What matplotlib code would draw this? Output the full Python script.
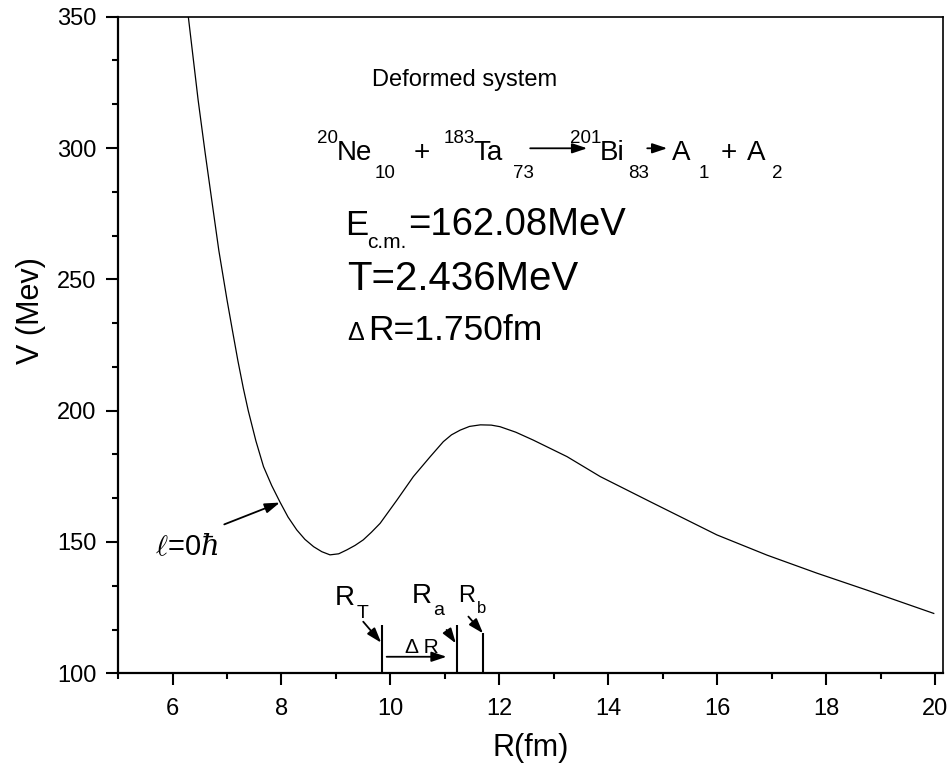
import matplotlib
matplotlib.use('Agg')
import matplotlib.pyplot as plt
from matplotlib.ticker import MultipleLocator, AutoMinorLocator

plt.rcParams['font.family'] = ['Liberation Sans', 'DejaVu Sans']
plt.rcParams['mathtext.fontset'] = 'custom'
plt.rcParams['mathtext.rm'] = 'Liberation Sans'
plt.rcParams['mathtext.it'] = 'DejaVu Serif:italic'

# potential curve
r_fm = [6.29, 6.47, 6.60, 6.72, 6.85, 7.00, 7.10, 7.20, 7.30, 7.39, 7.53,
        7.67, 7.82, 7.97, 8.12, 8.28, 8.43, 8.59, 8.74, 8.89, 9.05, 9.20,
        9.35, 9.50, 9.65, 9.81, 10.12, 10.42, 10.73, 10.97, 11.12, 11.28,
        11.45, 11.65, 11.85, 12.01, 12.30, 12.62, 13.24, 13.85, 14.77,
        15.07, 15.99, 16.91, 17.83, 18.74, 19.97]
v_mev = [350.0, 318.3, 298.0, 280.2, 261.0, 242.2, 230.5, 219.0, 208.5,
         200.0, 188.5, 178.7, 171.5, 165.3, 159.5, 154.6, 151.0, 148.2,
         146.3, 145.1, 145.5, 147.0, 148.7, 150.8, 153.7, 157.1, 166.0,
         174.9, 182.5, 188.2, 190.8, 192.6, 194.0, 194.6, 194.5, 193.9,
         191.8, 188.8, 182.5, 174.9, 165.3, 162.2, 152.7, 145.0, 138.1,
         131.7, 122.8]

# R_T, R_a, R_b markers
r_marks = [9.85, 11.22, 11.70]
v_mark_tops = [118.3, 118.3, 115.2]

fig = plt.figure(figsize=(9.51, 7.74), dpi=100)
ax = fig.add_axes([0.1241, 0.1301, 0.8675, 0.8483])

ax.plot(r_fm, v_mev, color='black', lw=0.9)
ax.vlines(r_marks, 100, v_mark_tops, color='black', lw=1.5)

ax.set_xlim(5, 20.14)
ax.set_ylim(100, 350)
ax.set_xticks([6, 8, 10, 12, 14, 16, 18, 20])
ax.xaxis.set_minor_locator(MultipleLocator(1))
ax.yaxis.set_major_locator(MultipleLocator(50))
ax.yaxis.set_minor_locator(AutoMinorLocator(3))
ax.tick_params(which='major', direction='out', length=8.5, width=1.5,
               labelsize=17, pad=7)
ax.tick_params(axis='x', which='major', pad=9)
ax.tick_params(which='minor', direction='out', length=4.5, width=1.5)
for s in ax.spines.values():
    s.set_linewidth(1.2)
ax.spines['left'].set_linewidth(1.6)
ax.spines['bottom'].set_linewidth(1.6)

ax.set_xlabel('R(fm)', fontsize=22, labelpad=10)
ax.set_ylabel('V (Mev)', fontsize=22, labelpad=8)
ax.yaxis.label.set_y(0.553)

# texts
ax.text(9.663, 323.6, 'Deformed system', fontsize=17, va='baseline')

big, small, yb, ysub, ysup = 20, 13.5, 295.5, 288.5, 301.8
eq = [('20', 8.653, ysup, small), ('Ne', 9.021, yb, big), ('10', 9.70, ysub, small),
      ('+', 10.416, yb, big), ('183', 10.967, ysup, small), ('Ta', 11.517, yb, big),
      ('73', 12.252, ysub, small), ('201', 13.298, ysup, small), ('Bi', 13.849, yb, big),
      ('83', 14.363, ysub, small), ('A', 15.17, yb, big), ('1', 15.648, ysub, small),
      ('+', 16.05, yb, big), ('A', 16.54, yb, big), ('2', 17.01, ysub, small)]
for s, x, y, fs in eq:
    ax.text(x, y, s, fontsize=fs, va='baseline')

arrow = dict(arrowstyle='-|>,head_length=0.9,head_width=0.3', color='black',
             lw=1.3, shrinkA=0, shrinkB=0)
ax.annotate('', xy=(13.61, 299.9), xytext=(12.564, 299.9), arrowprops=arrow)
ax.annotate('', xy=(15.079, 299.9), xytext=(14.712, 299.9), arrowprops=arrow)

ax.text(9.167, 267.0, 'E', fontsize=25, va='baseline')
ax.text(9.571, 262.0, 'c.m.', fontsize=15, va='baseline')
ax.text(10.324, 267.0, '=162.08MeV', fontsize=27.5, va='baseline')
ax.text(9.204, 246.0, 'T=2.436MeV', fontsize=29, va='baseline')
ax.text(9.204, 227.0, 'Δ', fontsize=18, va='baseline')
ax.text(9.59, 227.0, 'R=1.750fm', fontsize=25.5, va='baseline')

ax.text(5.68, 145.1, r'$\ell$=0$\hbar$', fontsize=21, va='baseline')
ax.annotate('', xy=(7.97, 165.0), xytext=(6.95, 156.7), arrowprops=arrow)

ax.text(8.98, 126.0, 'R', fontsize=20, va='baseline')
ax.text(9.37, 121.1, 'T', fontsize=14, va='baseline')
ax.text(10.397, 126.8, 'R', fontsize=20, va='baseline')
ax.text(10.78, 122.2, 'a', fontsize=14, va='baseline')
ax.text(11.242, 127.2, 'R', fontsize=17, va='baseline')
ax.text(11.59, 123.0, 'b', fontsize=12, va='baseline')
ax.text(10.27, 107.7, 'Δ R', fontsize=15, va='baseline')

ax.annotate('', xy=(9.83, 111.65), xytext=(9.50, 119.65), arrowprops=arrow)
ax.annotate('', xy=(11.20, 111.4), xytext=(11.03, 116.5), arrowprops=arrow)
ax.annotate('', xy=(11.70, 115.2), xytext=(11.43, 121.6), arrowprops=arrow)
ax.annotate('', xy=(11.03, 106.3), xytext=(9.93, 106.3), arrowprops=arrow)

fig.savefig('out.png', dpi=100)
